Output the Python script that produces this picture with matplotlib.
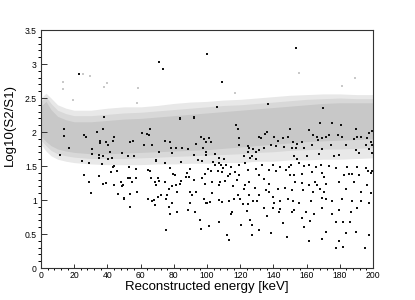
import numpy as np
import matplotlib
matplotlib.use("Agg")
import matplotlib.pyplot as plt
from matplotlib.ticker import MultipleLocator

plt.rcParams['font.family'] = ['Liberation Sans', 'DejaVu Sans']

# gray population: band edges (energy in keV)
band_e = [0, 3, 6, 10, 15, 20, 30, 40, 50, 60, 70, 80, 90, 100,
          110, 120, 130, 140, 150, 160, 170, 180, 190, 200]
outer_top = [2.50, 2.57, 2.50, 2.40, 2.35, 2.32, 2.32, 2.35, 2.37, 2.37, 2.39, 2.42,
             2.44, 2.45, 2.47, 2.48, 2.50, 2.52, 2.54, 2.55, 2.56, 2.56, 2.55, 2.55]
outer_bot = [1.82, 1.72, 1.65, 1.60, 1.57, 1.55, 1.53, 1.52, 1.52, 1.52, 1.53, 1.53,
             1.54, 1.54, 1.55, 1.55, 1.57, 1.57, 1.59, 1.59, 1.60, 1.60, 1.61, 1.62]
mid_top = [2.45, 2.52, 2.42, 2.32, 2.27, 2.24, 2.24, 2.26, 2.28, 2.29, 2.31, 2.33,
           2.35, 2.37, 2.39, 2.40, 2.42, 2.44, 2.46, 2.48, 2.49, 2.50, 2.49, 2.49]
mid_bot = [1.88, 1.80, 1.73, 1.68, 1.65, 1.63, 1.61, 1.61, 1.61, 1.62, 1.63, 1.64,
           1.65, 1.66, 1.67, 1.68, 1.70, 1.71, 1.73, 1.74, 1.75, 1.75, 1.76, 1.77]
core_top = [2.38, 2.45, 2.33, 2.23, 2.18, 2.15, 2.15, 2.17, 2.19, 2.20, 2.22, 2.24,
            2.26, 2.28, 2.30, 2.32, 2.34, 2.36, 2.38, 2.40, 2.42, 2.43, 2.43, 2.43]
core_bot = [1.94, 1.86, 1.80, 1.75, 1.72, 1.70, 1.68, 1.68, 1.69, 1.70, 1.71, 1.72,
            1.73, 1.74, 1.76, 1.78, 1.80, 1.82, 1.84, 1.86, 1.87, 1.88, 1.89, 1.90]

# scattered gray events outside the band
gray_e = [13.4, 13.1, 25.5, 29.5, 39.6, 38.1, 58.2, 57.8, 19.5, 155.4, 189.2, 116.9, 181.1]
gray_log = [2.74, 2.63, 2.86, 2.82, 2.72, 2.66, 2.64, 2.42, 2.47, 2.87, 2.79, 2.57, 2.68]

# black events
black_e = [
    23.1, 71.3, 73.5, 99.8, 153.6, 108.8, 92.2, 83.7, 65.5, 136.9, 170.1, 105.8,
    37.8, 13.9, 37.5, 13.9, 33.5, 25.9, 26.9, 35.3, 35.5, 39.0, 44.0, 43.4, 40.6,
    16.7, 30.9, 41.6, 30.5, 35.1, 37.5, 11.4, 48.8, 40.4, 43.0, 34.7, 24.9, 29.1,
    36.5, 44.2, 43.6, 45.8, 42.0, 25.7, 34.7, 28.9, 39.2, 37.3, 48.0, 48.6, 43.8,
    30.1, 46.4, 50.2,
    83.5, 92.0, 60.6, 63.9, 65.2, 55.6, 53.4, 61.9, 67.1, 74.5, 77.5, 78.5, 81.5,
    85.1, 88.7, 96.4, 98.2, 99.6, 93.4, 97.6, 99.2, 70.9, 78.9, 92.2, 52.4, 56.0,
    69.5, 69.3, 74.9, 84.3, 94.6, 96.8, 53.0, 57.4, 64.5, 65.9, 77.9, 89.8, 52.2,
    53.8, 57.4, 66.1, 70.5, 79.5, 80.5, 88.0, 89.2, 87.2, 92.4, 98.8, 96.8, 55.0,
    68.7, 69.1, 71.1, 74.5, 78.9, 81.5, 83.9, 84.5, 98.6, 49.6, 58.0, 53.8, 77.1,
    82.1, 89.9, 90.8, 93.2, 50.2, 64.5, 67.1, 67.9, 70.5, 72.5, 75.1, 76.1, 98.0,
    99.2, 53.8, 68.5, 79.1, 89.6, 77.1, 88.6, 92.6, 77.9, 82.1, 95.6, 96.4, 75.1,
    117.5, 118.5, 101.0, 102.4, 119.5, 119.5, 124.5, 125.5, 131.1, 132.5, 135.1,
    136.1, 140.6, 143.0, 145.6, 148.6, 146.6, 124.5, 127.5, 129.5, 131.5, 134.5,
    138.6, 141.6, 99.6, 105.0, 107.4, 110.4, 122.1, 125.9, 127.1, 129.5, 103.4,
    104.6, 107.0, 108.2, 109.4, 114.3, 111.4, 119.5, 122.9, 100.4, 102.4, 106.6,
    109.0, 113.9, 112.7, 117.1, 119.5, 124.7, 129.5, 133.1, 137.6, 139.6, 141.6,
    144.0, 147.6, 149.2, 102.8, 107.8, 111.0, 117.9, 125.5, 122.9, 131.1, 134.5,
    137.6, 107.4, 115.9, 122.5, 129.1, 135.5, 137.6, 142.6, 147.2, 103.0, 118.9,
    119.9, 116.5, 125.5, 131.5, 139.6, 140.6, 144.0, 148.6, 107.4, 108.8, 113.1,
    121.5, 124.9, 127.5, 129.9, 100.0, 102.0, 134.3, 139.6, 143.6, 144.0, 115.1,
    114.3, 124.3, 135.9, 107.4, 101.4, 120.3, 125.9, 127.1, 145.6, 131.5, 111.9,
    127.1, 138.4, 113.5, 148.4,
    167.9, 175.5, 180.5, 189.6, 197.6, 199.6, 150.0, 161.4, 163.9, 166.5, 167.1,
    169.5, 171.9, 173.5, 179.1, 181.5, 188.6, 190.6, 192.6, 196.6, 198.6, 151.8,
    154.4, 157.4, 163.5, 174.5, 183.5, 195.6, 199.6, 151.0, 153.8, 158.4, 169.5,
    189.6, 197.6, 152.4, 154.4, 160.4, 167.5, 176.5, 179.5, 191.6, 199.6, 150.4,
    155.4, 158.4, 161.4, 165.5, 168.5, 173.5, 177.5, 184.5, 190.6, 195.6, 198.6,
    149.8, 152.4, 157.4, 163.5, 169.5, 170.5, 182.5, 185.5, 187.6, 191.6, 197.0,
    199.2, 153.0, 157.0, 161.4, 165.1, 166.5, 171.5, 179.5, 188.6, 196.6, 151.4,
    157.8, 163.9, 167.9, 170.5, 183.5, 192.6, 198.6, 169.5, 171.5, 175.5, 181.5,
    187.6, 192.6, 197.6, 151.8, 155.4, 162.5, 152.4, 151.0, 159.4, 164.5, 169.5,
    175.1, 179.5, 186.5, 190.6, 157.4, 161.8, 177.5, 181.9, 186.1, 158.4, 171.5,
    183.5, 189.6, 197.6, 161.4, 169.5, 179.5, 177.5, 181.9, 195.2,
]
black_log = [
    2.86, 3.03, 2.93, 3.15, 3.23, 2.73, 2.22, 2.20, 2.05, 2.41, 2.36, 2.37,
    2.22, 2.05, 2.05, 1.94, 2.00, 1.95, 1.92, 1.87, 1.84, 1.85, 1.92, 1.87, 1.81,
    1.76, 1.75, 1.71, 1.67, 1.66, 1.65, 1.66, 1.69, 1.61, 1.62, 1.62, 1.57, 1.54,
    1.53, 1.50, 1.49, 1.42, 1.41, 1.37, 1.36, 1.27, 1.25, 1.24, 1.26, 1.21, 1.22,
    1.10, 1.09, 1.02,
    2.19, 2.21, 1.98, 1.97, 1.96, 1.87, 1.85, 1.81, 1.81, 1.87, 1.85, 1.76, 1.76,
    1.77, 1.75, 1.92, 1.90, 1.86, 1.82, 1.77, 1.70, 1.71, 1.69, 1.66, 1.64, 1.64,
    1.59, 1.57, 1.54, 1.56, 1.59, 1.57, 1.49, 1.46, 1.44, 1.43, 1.47, 1.46, 1.32,
    1.32, 1.33, 1.32, 1.32, 1.38, 1.37, 1.39, 1.34, 1.34, 1.30, 1.38, 1.32, 1.26,
    1.27, 1.22, 1.28, 1.26, 1.21, 1.22, 1.23, 1.28, 1.23, 1.22, 1.12, 1.09, 1.16,
    1.12, 1.12, 1.07, 1.12, 1.03, 1.01, 0.99, 1.00, 1.04, 1.07, 1.01, 1.07, 1.01,
    0.95, 0.90, 0.93, 0.95, 0.95, 0.89, 0.85, 0.83, 0.79, 0.82, 0.71, 0.57, 0.56,
    2.11, 2.05, 1.91, 1.86, 1.91, 1.81, 1.80, 1.77, 1.92, 1.91, 1.97,
    2.00, 1.92, 1.87, 1.91, 1.92, 1.78, 1.70, 1.75, 1.71, 1.74, 1.76,
    1.81, 1.80, 1.66, 1.68, 1.62, 1.61, 1.64, 1.62, 1.65, 1.61, 1.56,
    1.52, 1.55, 1.52, 1.47, 1.49, 1.52, 1.52, 1.54, 1.46, 1.43, 1.42,
    1.41, 1.38, 1.36, 1.41, 1.37, 1.44, 1.46, 1.51, 1.44, 1.51, 1.42,
    1.48, 1.44, 1.48, 1.26, 1.26, 1.28, 1.29, 1.26, 1.22, 1.37, 1.31,
    1.23, 1.22, 1.20, 1.16, 1.17, 1.15, 1.12, 1.16, 1.17, 1.11, 1.08,
    1.02, 1.02, 1.07, 1.07, 1.05, 0.95, 0.99, 1.02, 1.00, 0.97, 0.98,
    0.94, 0.94, 0.98, 0.99, 0.95, 0.97, 0.88, 0.88, 0.82, 0.87, 0.82,
    0.80, 0.84, 0.76, 0.67, 0.62, 0.63, 0.70, 0.63, 0.66, 0.56, 0.49,
    0.48, 0.51, 0.41, 0.45,
    2.13, 2.13, 2.10, 2.05, 1.99, 2.01, 2.04, 2.03, 1.96, 1.92, 1.88,
    1.91, 1.93, 1.95, 1.95, 1.93, 1.90, 1.92, 1.92, 1.91, 1.86, 1.86,
    1.83, 1.86, 1.81, 1.81, 1.81, 1.81, 1.81, 1.76, 1.77, 1.76, 1.75,
    1.74, 1.75, 1.64, 1.61, 1.64, 1.67, 1.65, 1.66, 1.69, 1.69, 1.515,
    1.54, 1.50, 1.51, 1.49, 1.52, 1.50, 1.47, 1.49, 1.49, 1.47, 1.39,
    1.37, 1.37, 1.38, 1.41, 1.39, 1.34, 1.37, 1.38, 1.38, 1.37, 1.42,
    1.43, 1.26, 1.25, 1.22, 1.26, 1.22, 1.23, 1.26, 1.26, 1.22, 1.15,
    1.15, 1.12, 1.16, 1.12, 1.16, 1.12, 1.10, 1.03, 1.01, 0.98, 1.01,
    0.98, 0.98, 0.95, 0.98, 0.95, 0.98, 0.85, 0.82, 0.82, 0.79, 0.88,
    0.80, 0.85, 0.83, 0.88, 0.74, 0.69, 0.67, 0.67, 0.68, 0.61, 0.53,
    0.52, 0.53, 0.49, 0.39, 0.43, 0.40, 0.29, 0.31, 0.29,
]

fig = plt.figure(figsize=(4.15, 3.0), dpi=100)
ax = fig.add_axes([41 / 415, 32 / 300, 332 / 415, 238 / 300])

# band drawn as three density levels, lightest outside
ax.fill_between(band_e, outer_bot, outer_top, color='#e8e8e8', lw=0)
ax.fill_between(band_e, mid_bot, mid_top, color='#d8d8d8', lw=0)
ax.fill_between(band_e, core_bot, core_top, color='#c8c8c8', lw=0)
ax.scatter(gray_e, gray_log, s=1.5, marker='s', color='#c9c9c9', lw=0)
ax.scatter(black_e, black_log, s=2.4, marker='s', color='#111111', lw=0)

ax.set_xlim(0, 200)
ax.set_ylim(0, 3.5)
ax.xaxis.set_major_locator(MultipleLocator(20))
ax.xaxis.set_minor_locator(MultipleLocator(4))
ax.yaxis.set_major_locator(MultipleLocator(0.5))
ax.yaxis.set_minor_locator(MultipleLocator(0.1))
ax.yaxis.set_major_formatter(plt.FuncFormatter(lambda v, p: f"{v:g}"))
ax.xaxis.set_major_formatter(plt.FuncFormatter(lambda v, p: f"{v:g}"))

ax.tick_params(direction='in', labelsize=6.2, width=0.7, color='#333333')
ax.tick_params(axis='x', which='major', length=3, pad=2)
ax.tick_params(axis='x', which='minor', length=1.5, width=0.7)
ax.tick_params(axis='y', which='major', length=4, pad=3)
ax.tick_params(axis='y', which='minor', length=2, width=0.7)
for sp in ax.spines.values():
    sp.set_linewidth(0.8)
    sp.set_color('#333333')

ax.set_xlabel('Reconstructed energy [keV]', fontsize=9.5, labelpad=1)
ax.set_ylabel('Log10(S2/S1)', fontsize=9.5, labelpad=3)
ax.yaxis.set_label_coords(-0.075, 0.6)

fig.savefig('out.png', dpi=100)
